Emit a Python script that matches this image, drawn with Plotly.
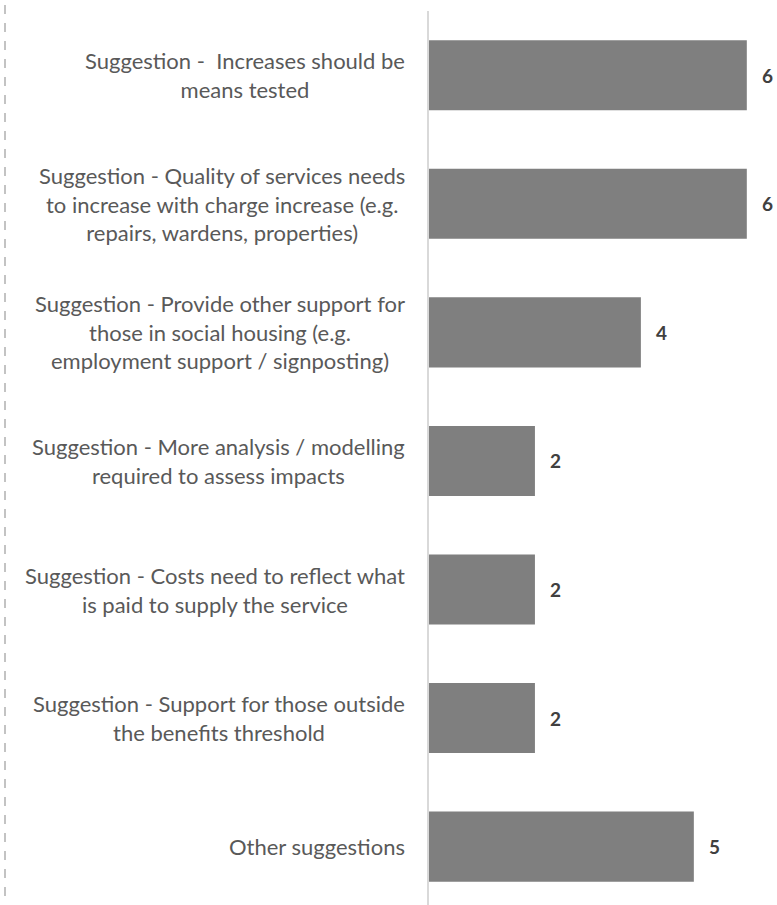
import plotly.graph_objects as go

categories = [
    "Suggestion -  Increases should be<br>means tested",
    "Suggestion - Quality of services needs<br>to increase with charge increase (e.g.<br>repairs, wardens, properties)",
    "Suggestion - Provide other support for<br>those in social housing (e.g.<br>employment support / signposting)",
    "Suggestion - More analysis / modelling<br>required to assess impacts",
    "Suggestion - Costs need to reflect what<br>is paid to supply the service",
    "Suggestion - Support for those outside<br>the benefits threshold",
    "Other suggestions",
]
values = [6, 6, 4, 2, 2, 2, 5]

W, H = 777, 905
ml, mr, mt, mb = 429, 9, 11, 0
x_max = 6.4

fig = go.Figure(go.Bar(
    x=values, y=list(range(len(categories))), orientation="h",
    marker=dict(color="#7f7f7f", line=dict(width=0)),
    width=0.545, hoverinfo="skip",
))

annotations = []
for i, (cat, v) in enumerate(zip(categories, values)):
    annotations.append(dict(
        x=0, y=i, xref="paper", yref="y", text=cat, showarrow=False,
        xanchor="right", yanchor="middle", align="center", xshift=-22,
        font=dict(family="Lato", size=22, color="#595959"),
    ))
    annotations.append(dict(
        x=v, y=i, xref="x", yref="y", text=f"<b>{v}</b>", showarrow=False,
        xanchor="left", yanchor="middle", xshift=13,
        font=dict(family="Lato", size=19, color="#404040"),
    ))

pw = W - ml - mr
fig.update_layout(
    width=W, height=H,
    margin=dict(l=ml, r=mr, t=mt, b=mb),
    plot_bgcolor="white", paper_bgcolor="white",
    showlegend=False,
    annotations=annotations,
    shapes=[dict(type="line", xref="paper", yref="paper",
                 x0=-(ml - 5) / pw, x1=-(ml - 5) / pw, y0=-0.01, y1=1.02,
                 line=dict(color="#b0b0b0", width=1.5, dash="dash"))],
)
fig.update_xaxes(range=[0, x_max], visible=False)
fig.update_yaxes(range=[6.454, -0.5], showticklabels=False,
                 showgrid=False, zeroline=False, showline=True,
                 linecolor="#d9d9d9", linewidth=2, ticks="")

fig.write_html("out.html", config={"displayModeBar": False},
               post_script="document.body.style.margin='0';")
